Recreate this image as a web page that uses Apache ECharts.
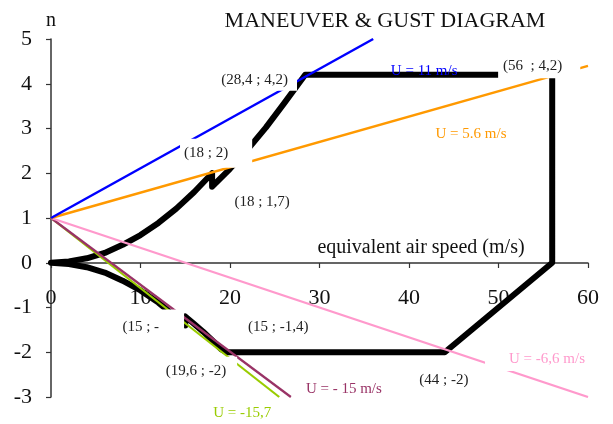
<!DOCTYPE html>
<html>
<head>
<meta charset="utf-8">
<script src="https://cdn.jsdelivr.net/npm/echarts@6/dist/echarts.min.js"></script>
<style>
  html, body { margin: 0; padding: 0; background: #fff; }
  #chart { width: 613px; height: 424px; }
</style>
</head>
<body>
<div id="chart"></div>
<script>
// maneuver envelope, drawn as one closed path (V, n)
const envelope = [
  [0, 0], [2, 0.03], [4, 0.1], [6, 0.22], [8, 0.4], [10, 0.62], [12, 0.89], [14, 1.21], [16, 1.58], [18, 2.0],
  [18, 1.7], [20, 2.1], [22, 2.54], [24, 3.02], [26, 3.55], [28.4, 4.2],
  [56, 4.2], [56, 0], [44, -2], [19.6, -2],
  [19, -1.93], [18, -1.73], [17, -1.54], [16, -1.37], [15, -1.2],
  [15, -1.4], [14, -1.22], [12, -0.89], [10, -0.62], [8, -0.4], [6, -0.22], [4, -0.1], [2, -0.03], [0, 0]
]

// gust lines
const gust11 = [[0, 1], [36, 5]]
const gust56 = [[0, 1], [60, 4.4]]
const gustM66 = [[0, 1], [60, -3]]
const gustM15 = [[0, 1], [26.8, -3]]
const gustM157 = [[0, 1], [25.5, -3]]

const xTicks = [0, 10, 20, 30, 40, 50, 60]
const yTicks = [-3, -2, -1, 0, 1, 2, 3, 4, 5]

// annotation texts and the points they are tied to
const noteText = [
  '(28,4 ; 4,2)', '(56  ; 4,2)', '(18 ; 2)', '(15 ; -', '(19,6 ; -2)', 'U = -6,6 m/s',
  '(18 ; 1,7)', '(15 ; -1,4)', '(44 ; -2)', 'U = - 15 m/s', 'U = -15,7', 'U = 5.6 m/s', 'U = 11 m/s'
]
const noteAt = [
  [28.4, 4.2], [56, 4.2], [18, 2], [15, -1.4], [19.6, -2], [60, -3],
  [18, 1.7], [15, -1.4], [44, -2], [26.8, -3], [25.5, -3], [60, 4.4], [36, 5]
]

const FONT = '"Liberation Serif", "Times New Roman", serif'

// label placement and look, per note
const noteStyle = [
  { offset: [-48, 5], padding: [2, 9, 3, 4], box: true },
  { offset: [-13, -9], padding: [2, 18, 6, 5], box: true },
  { offset: [4, -20], padding: [3, 24, 9, 4], box: true },
  { offset: [-34, 2], padding: [15, 25, 4, 4], box: true },
  { offset: [-28, 19], padding: [7, 11, 5, 6], box: true },
  { offset: [-51, -38], padding: [3, 4, 4, 24], box: true, color: '#ff99cc' },
  { offset: [50, 15] },
  { offset: [93, 2] },
  { offset: [-1, 28] },
  { offset: [53, -8], color: '#993366' },
  { offset: [-37, 16], color: '#99cc00' },
  { offset: [-117, 68], color: '#ff9900' },
  { offset: [51, 32], color: '#0000ff' }
]

const notes = noteAt.map((p, i) => {
  const s = noteStyle[i]
  return {
    value: p,
    label: {
      show: true,
      position: 'inside',
      formatter: noteText[i],
      offset: s.offset,
      color: s.color || '#222',
      opacity: 1,
      fontFamily: FONT,
      fontSize: 15,
      lineHeight: 17,
      backgroundColor: s.box ? '#fff' : 'transparent',
      padding: s.padding || 0
    }
  }
})

function gustSeries(data, color, width) {
  return {
    type: 'line',
    data: data,
    symbol: 'none',
    z: 3,
    silent: true,
    lineStyle: { color: color, width: width }
  }
}

const chart = echarts.init(document.getElementById('chart'))

chart.setOption({
  animation: false,
  backgroundColor: '#fff',
  grid: { left: 51, right: 25, top: 39, bottom: 27, outerBoundsMode: 'none', containLabel: false },
  xAxis: {
    type: 'value',
    min: xTicks[0],
    max: xTicks[xTicks.length - 1],
    interval: 10,
    position: 'bottom',
    // x axis crosses at n = 0: 3 of the 8 units above the bottom of the grid
    offset: -Math.round((424 - 39 - 27) * 3 / 8),
    axisLine: { onZero: false, lineStyle: { color: '#333', width: 1.5 } },
    axisTick: { show: true, length: 5, lineStyle: { color: '#333', width: 1.2 } },
    axisLabel: { margin: 24, color: '#111', fontSize: 22, fontFamily: FONT },
    splitLine: { show: false }
  },
  yAxis: {
    type: 'value',
    min: yTicks[0],
    max: yTicks[yTicks.length - 1],
    interval: 1,
    axisLine: { show: true, onZero: false, lineStyle: { color: '#333', width: 1.5 } },
    axisTick: { show: true, length: 5, lineStyle: { color: '#333', width: 1.2 } },
    axisLabel: { margin: 19, color: '#111', fontSize: 22, fontFamily: FONT },
    splitLine: { show: false }
  },
  graphic: [
    { type: 'text', x: 385, y: 21, style: { text: 'MANEUVER & GUST DIAGRAM', font: '22px ' + FONT, fill: '#111', align: 'center', verticalAlign: 'middle' } },
    { type: 'text', x: 51, y: 21, style: { text: 'n', font: '20px ' + FONT, fill: '#111', align: 'center', verticalAlign: 'middle' } },
    { type: 'text', x: 421, y: 248, style: { text: 'equivalent air speed (m/s)', font: '20px ' + FONT, fill: '#111', align: 'center', verticalAlign: 'middle' } }
  ],
  series: [
    {
      type: 'line',
      data: envelope,
      symbol: 'none',
      z: 2,
      silent: true,
      lineStyle: { color: '#000', width: 6, join: 'round', cap: 'round' }
    },
    gustSeries(gustM157, '#99cc00', 2.2),
    gustSeries(gustM15, '#993366', 2.2),
    gustSeries(gustM66, '#ff99cc', 2.2),
    gustSeries(gust56, '#ff9900', 2.5),
    gustSeries(gust11, '#0000ff', 2.5),
    {
      type: 'scatter',
      data: notes,
      symbolSize: 0,
      z: 10,
      silent: true,
      clip: false,
      itemStyle: { color: '#fff', opacity: 1 }
    }
  ]
})
</script>
</body>
</html>
